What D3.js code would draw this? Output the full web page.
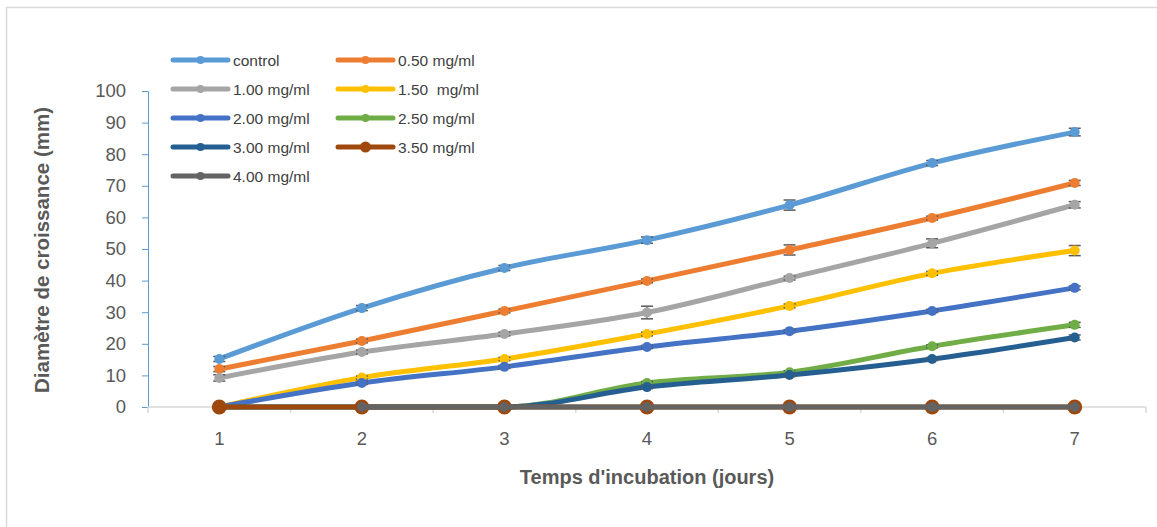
<!DOCTYPE html>
<html>
<head>
<meta charset="utf-8">
<script src="https://cdn.jsdelivr.net/npm/d3@7"></script>
<style>
  body { margin: 0; background: #fff; }
  svg { display: block; font-family: "Liberation Sans", Arial, sans-serif; }
</style>
</head>
<body>
<svg width="1157" height="527"></svg>
<script>
// days on the x axis
const days = [1, 2, 3, 4, 5, 6, 7];

// series names, as in the legend
const seriesNames = ["control", "0.50 mg/ml", "1.00 mg/ml", "1.50  mg/ml", "2.00 mg/ml",
  "2.50 mg/ml", "3.00 mg/ml", "3.50 mg/ml", "4.00 mg/ml"];

// mean diameters (mm)
const control = [15.2, 31.3, 44.0, 52.8, 63.9, 77.2, 87.0];
const c050 = [12.0, 20.9, 30.4, 39.9, 49.7, 59.8, 70.9];
const c100 = [9.2, 17.4, 23.1, 29.9, 40.8, 51.8, 64.0];
const c150 = [0, 9.3, 15.2, 23.1, 32.0, 42.3, 49.5];
const c200 = [0, 7.6, 12.7, 19.0, 24.0, 30.4, 37.7];
const c250 = [0, 0, 0, 7.6, 11.0, 19.2, 26.0];
const c300 = [0, 0, 0, 6.3, 10.1, 15.2, 22.0];
const c350 = [0, 0, 0, 0, 0, 0, 0];
const c400 = [null, 0, 0, 0, 0, 0, 0];

// error bar half-widths (mm)
const errControl = [0.8, 0.8, 0.8, 1.0, 1.6, 0.8, 1.2];
const err050 = [0.8, 0.6, 0.6, 0.6, 1.6, 0.6, 0.8];
const err100 = [1.0, 0.6, 0.6, 2.0, 0.6, 1.4, 1.0];
const err150 = [0, 0.5, 0.5, 0.6, 0.6, 0.6, 1.6];
const err200 = [0, 0.5, 0.5, 0.5, 0.5, 0.5, 0.6];
const err250 = [0, 0, 0, 0.5, 0.5, 0.5, 0.8];
const err300 = [0, 0, 0, 0.5, 0.5, 0.5, 0.8];
const err350 = [0, 0, 0, 0, 0, 0, 0];
const err400 = [0, 0, 0, 0, 0, 0, 0];

const yTicks = [0, 10, 20, 30, 40, 50, 60, 70, 80, 90, 100];

const colors = ["#5b9bd5", "#ed7d31", "#a5a5a5", "#ffc000", "#4472c4",
  "#70ad47", "#255e91", "#9e480e", "#636363"];

const values = [control, c050, c100, c150, c200, c250, c300, c350, c400];
const errors = [errControl, err050, err100, err150, err200, err250, err300, err350, err400];

const series = seriesNames.map((name, i) => ({
  name,
  color: colors[i],
  big: i === 7,
  points: days.map((d, j) => ({ day: d, v: values[i][j], e: errors[i][j] }))
}));

const svg = d3.select("svg");

// chart frame
svg.append("rect")
  .attr("x", 6.5).attr("y", 7.5)
  .attr("width", 1170).attr("height", 540)
  .attr("fill", "none")
  .attr("stroke", "#d9d9d9")
  .attr("stroke-width", 1.5);

const x = d3.scaleBand().domain(days).range([148, 1146]);
const y = d3.scaleLinear().domain([0, 100]).range([407, 91]);
const cx = d => x(d) + x.bandwidth() / 2;

// y axis
const yAxis = svg.append("g")
  .attr("transform", "translate(148,0)")
  .call(d3.axisLeft(y).tickValues(yTicks).tickSize(6).tickPadding(16));
yAxis.select(".domain").attr("stroke", "#5b9bd5").attr("stroke-width", 1);
yAxis.selectAll(".tick line").attr("stroke", "#5b9bd5");
yAxis.selectAll("text").attr("fill", "#595959").style("font-size", "18.5px");

// x axis: ticks sit between the categories
const xAxis = svg.append("g").attr("transform", "translate(0,407)");
xAxis.append("line")
  .attr("x1", 148).attr("x2", 1146)
  .attr("stroke", "#d9d9d9").attr("stroke-width", 1.5);
xAxis.selectAll(".bound")
  .data(days.concat([8]))
  .join("line")
  .attr("x1", d => d === 8 ? 1146 : x(d))
  .attr("x2", d => d === 8 ? 1146 : x(d))
  .attr("y1", 0).attr("y2", 6)
  .attr("stroke", "#d9d9d9").attr("stroke-width", 1.5);
xAxis.selectAll(".lab")
  .data(days)
  .join("text")
  .attr("x", cx)
  .attr("y", 38)
  .attr("text-anchor", "middle")
  .attr("fill", "#595959")
  .style("font-size", "18.5px")
  .text(d => d);

// axis titles
svg.append("text")
  .attr("x", 647).attr("y", 484)
  .attr("text-anchor", "middle")
  .attr("fill", "#595959")
  .style("font-size", "20px").style("font-weight", "bold")
  .text("Temps d'incubation (jours)");

svg.append("text")
  .attr("transform", "translate(49,250) rotate(-90)")
  .attr("text-anchor", "middle")
  .attr("fill", "#595959")
  .style("font-size", "20.5px").style("font-weight", "bold")
  .text("Diamètre de croissance (mm)");

// smoothed lines, no overshoot below zero
const line = d3.line()
  .defined(p => p.v !== null)
  .x(p => cx(p.day))
  .y(p => y(p.v))
  .curve(d3.curveMonotoneX);

const plot = svg.append("g");
series.forEach(s => {
  const g = plot.append("g");
  g.append("path")
    .attr("d", line(s.points))
    .attr("fill", "none")
    .attr("stroke", s.color)
    .attr("stroke-width", 5)
    .attr("stroke-linejoin", "round");

  const pts = s.points.filter(p => p.v !== null);

  // error bars
  const eb = g.selectAll(".err").data(pts.filter(p => p.e > 0)).join("g");
  eb.append("line")
    .attr("x1", p => cx(p.day)).attr("x2", p => cx(p.day))
    .attr("y1", p => y(p.v - p.e)).attr("y2", p => y(p.v + p.e))
    .attr("stroke", "#595959").attr("stroke-width", 1.2);
  [-1, 1].forEach(sg => {
    eb.append("line")
      .attr("x1", p => cx(p.day) - 6).attr("x2", p => cx(p.day) + 6)
      .attr("y1", p => y(p.v + sg * p.e)).attr("y2", p => y(p.v + sg * p.e))
      .attr("stroke", "#595959").attr("stroke-width", 1.5);
  });

  g.selectAll("circle").data(pts).join("circle")
    .attr("cx", p => cx(p.day))
    .attr("cy", p => y(p.v))
    .attr("r", s.big ? 7.5 : 5)
    .attr("fill", s.color);
});

// legend in two columns
const legend = svg.append("g");
series.forEach((s, i) => {
  const col = i % 2, row = Math.floor(i / 2);
  const lx = 173 + col * 165, ly = 60 + row * 29;
  const item = legend.append("g").attr("transform", `translate(${lx},${ly})`);
  item.append("line")
    .attr("x1", 0).attr("x2", 55)
    .attr("stroke", s.color).attr("stroke-width", 5)
    .attr("stroke-linecap", "round");
  item.append("circle")
    .attr("cx", 27.5).attr("r", s.big ? 5.5 : 4)
    .attr("fill", s.color);
  item.append("text")
    .attr("x", 60).attr("y", 5.5)
    .attr("fill", "#404040")
    .style("font-size", "15.5px")
    .style("white-space", "pre")
    .text(s.name);
});
</script>
</body>
</html>
